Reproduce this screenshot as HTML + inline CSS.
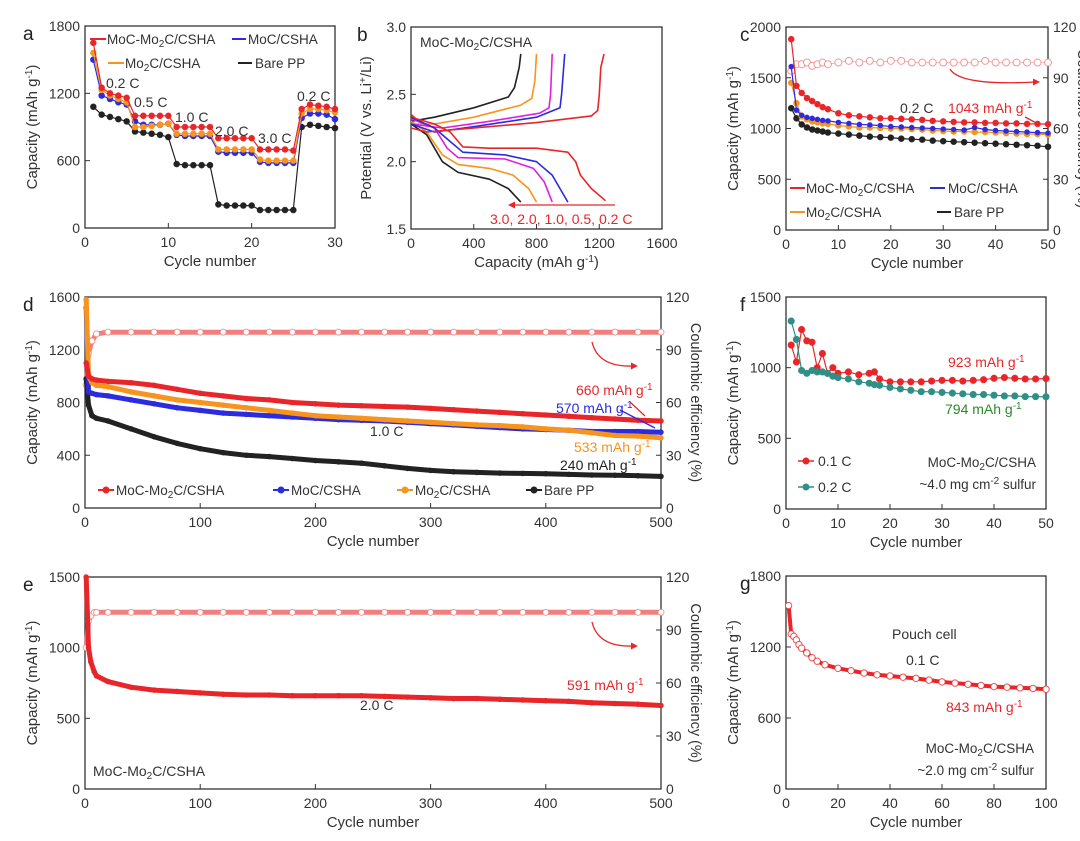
<!DOCTYPE html>
<html><head><meta charset="utf-8">
<style>
html,body{margin:0;padding:0;background:#fff;}
svg{display:block;font-family:"Liberation Sans",Arial,sans-serif;}
</style></head>
<body>
<svg id="fig" width="1080" height="841" viewBox="0 0 1080 841" xmlns="http://www.w3.org/2000/svg"></svg>
<script>
// ---------- Panel a data ----------
const aCycles=[1,2,3,4,5,6,7,8,9,10,11,12,13,14,15,16,17,18,19,20,21,22,23,24,25,26,27,28,29,30];
const aRed=[1650,1250,1200,1180,1160,1000,1000,1000,1000,1000,900,900,900,900,900,800,800,800,800,800,700,700,700,700,690,1060,1100,1090,1080,1060];
const aBlue=[1500,1180,1150,1120,1100,950,920,920,920,930,830,820,820,820,820,680,670,670,670,670,590,580,580,580,580,980,1020,1020,1010,970];
const aOrange=[1560,1230,1180,1150,1120,900,900,910,920,930,840,840,840,840,840,700,700,700,700,700,610,600,600,600,600,1020,1060,1060,1050,1030];
const aBlack=[1080,1010,990,970,950,860,850,840,830,810,570,560,560,560,560,210,200,200,200,200,160,160,160,160,160,900,920,910,900,890];
// ---------- Panel b data (capacity, voltage) ----------
const bDisCap02=[0,30,150,250,330,500,800,1000,1050,1080,1150,1240];
const bDisV02=[2.35,2.32,2.28,2.22,2.11,2.10,2.10,2.07,2.0,1.9,1.8,1.71];
const bChCap02=[0,100,300,800,1150,1190,1200,1210,1230];
const bChV02=[2.25,2.22,2.24,2.29,2.34,2.38,2.5,2.7,2.8];
const bDisCap05=[0,150,250,330,600,800,900,950,1000];
const bDisV05=[2.33,2.25,2.15,2.07,2.05,2.0,1.9,1.8,1.7];
const bChCap05=[0,150,400,800,950,960,980];
const bChV05=[2.28,2.22,2.26,2.33,2.4,2.5,2.8];
const bDisCap10=[0,150,230,300,600,780,850,900];
const bDisV10=[2.32,2.25,2.1,2.03,2.02,1.95,1.85,1.7];
const bChCap10=[0,200,500,820,880,890,900];
const bChV10=[2.28,2.25,2.3,2.36,2.4,2.5,2.8];
const bDisCap20=[0,100,200,300,500,650,750,800];
const bDisV20=[2.3,2.22,2.05,1.98,1.95,1.9,1.8,1.7];
const bChCap20=[0,150,400,700,770,790,800];
const bChV20=[2.28,2.28,2.33,2.42,2.47,2.6,2.8];
const bDisCap30=[0,100,200,300,500,620,700];
const bDisV30=[2.28,2.2,2.0,1.92,1.87,1.8,1.7];
const bChCap30=[0,150,400,620,660,690,700];
const bChV30=[2.3,2.33,2.4,2.48,2.55,2.7,2.8];
// ---------- Panel c data ----------
const cCycles=[1,2,3,4,5,6,7,8,10,12,14,16,18,20,22,24,26,28,30,32,34,36,38,40,42,44,46,48,50];
const cRed=[1880,1420,1350,1300,1270,1240,1210,1190,1150,1130,1120,1110,1100,1100,1095,1090,1085,1075,1070,1065,1060,1060,1055,1055,1050,1050,1045,1045,1043];
const cBlue=[1610,1180,1130,1110,1100,1090,1080,1075,1060,1050,1040,1035,1030,1020,1015,1010,1005,1000,995,990,985,1010,990,980,975,970,965,960,955];
const cOrange=[1450,1250,1120,1090,1070,1060,1050,1045,1030,1020,1010,1010,1005,1000,1000,995,990,980,975,970,970,965,965,960,955,950,945,945,940];
const cBlack=[1200,1100,1040,1010,990,980,970,960,950,940,930,920,915,910,900,895,890,880,875,870,865,860,855,850,845,840,835,830,820];
const cCE=[94,98,98,99,97,98,99,98,99,100,99,100,99,100,100,99,99,99,99,99,99,99,100,99,99,99,99,99,99];
// ---------- Panel d data ----------
const dCycles=[1,3,6,10,20,40,60,80,100,120,140,160,180,200,220,240,260,280,300,320,340,360,380,400,420,440,460,480,500];
const dRed=[1100,1000,980,970,960,950,930,900,870,850,830,820,800,790,780,775,770,765,755,745,735,725,715,705,695,685,675,665,660];
const dBlue=[1520,880,870,860,850,820,790,760,740,720,710,700,690,680,670,665,660,650,640,630,620,610,600,595,590,580,580,580,575];
const dOrange=[1580,1000,950,930,920,880,850,820,800,780,760,740,720,700,690,680,670,660,650,640,630,625,615,600,590,570,550,545,533];
const dBlack=[980,780,700,680,660,600,540,490,450,420,400,390,375,360,350,340,320,300,285,275,270,265,262,260,255,250,248,245,240];
const dCE=[70,88,95,99,100,100,100,100,100,100,100,100,100,100,100,100,100,100,100,100,100,100,100,100,100,100,100,100,100];
// ---------- Panel e data ----------
const eCycles=[1,3,5,8,10,20,40,60,80,100,120,140,160,180,200,220,240,260,280,300,320,340,360,380,400,420,440,460,480,500];
const eRed=[1500,1000,900,830,800,760,720,700,690,680,670,665,665,660,660,660,660,655,650,645,640,640,635,630,625,620,610,605,600,591];
const eCE=[80,95,98,100,100,100,100,100,100,100,100,100,100,100,100,100,100,100,100,100,100,100,100,100,100,100,100,100,100,100];
// ---------- Panel f data ----------
const fCycles=[1,2,3,4,5,6,7,8,9,10,12,14,16,17,18,20,22,24,26,28,30,32,34,36,38,40,42,44,46,48,50];
const fRed=[1160,1040,1270,1190,1180,1000,1100,960,1000,960,970,950,960,970,920,900,900,900,900,905,910,910,905,910,915,925,930,925,920,920,923];
const fTeal=[1330,1200,980,960,980,970,970,960,940,930,920,900,890,880,875,860,850,840,830,830,825,820,815,810,810,805,800,800,795,795,794];
// ---------- Panel g data ----------
const gCycles=[1,2,3,4,5,6,8,10,12,15,20,25,30,35,40,45,50,55,60,65,70,75,80,85,90,95,100];
const gRed=[1550,1310,1290,1260,1220,1190,1150,1110,1080,1050,1020,1000,980,965,955,945,935,920,905,895,885,875,865,860,855,850,843];

const NS="http://www.w3.org/2000/svg";
const svg=document.getElementById('fig');
function el(tag,attrs,parent,txt){const e=document.createElementNS(NS,tag);for(const k in attrs)e.setAttribute(k,attrs[k]);if(txt!==undefined)e.textContent=txt;(parent||svg).appendChild(e);return e;}
const RED='#e8262a',BLUE='#2b2be0',ORANGE='#f7941d',BLACK='#222',MAG='#e020e0',TEAL='#2e8f86',GREEN='#2a8a2a';

function panel(name,o){
  const g=el('g',{},svg);
  
  
  const sx=v=>o.L+(v-o.xmin)/(o.xmax-o.xmin)*(o.R-o.L);
  const sy=v=>o.B-(v-o.ymin)/(o.ymax-o.ymin)*(o.B-o.T);
  const fr=el('rect',{x:o.L,y:o.T,width:o.R-o.L,height:o.B-o.T,fill:'none',stroke:'#333','stroke-width':1.3},g);
  
  
  o.xt.forEach(v=>{el('line',{x1:sx(v),x2:sx(v),y1:o.B,y2:o.B-5,stroke:'#333'},g);
    const t=el('text',{x:sx(v),y:o.B+19,'font-size':14,'text-anchor':'middle',fill:'#333'},g,v);
    });
  o.yt.forEach(v=>{el('line',{x1:o.L,x2:o.L+5,y1:sy(v),y2:sy(v),stroke:'#333'},g);
    const t=el('text',{x:o.L-5,y:sy(v)+5,'font-size':14,'text-anchor':'end',fill:'#333'},g,o.yfmt?o.yfmt(v):v);
    });
  if(o.rt){const sr=v=>o.B-v/120*(o.B-o.T);
    o.rt.forEach(v=>{el('line',{x1:o.R,x2:o.R-5,y1:sr(v),y2:sr(v),stroke:'#333'},g);
      const t=el('text',{x:o.R+5,y:sr(v)+5,'font-size':14,fill:'#333'},g,v);
      });
    const rt=el('text',{x:0,y:0,'font-size':14.5,'text-anchor':'middle',fill:'#333',transform:`translate(${o.R+30},${(o.T+o.B)/2}) rotate(90)`},g,'Coulombic efficiency (%)');
    
    o.sr=sr;}
  const xl=el('text',{x:(o.L+o.R)/2,y:o.B+38,'font-size':15,'text-anchor':'middle',fill:'#333'},g);
  xl.innerHTML=o.xlab;
  
  const yl=el('text',{x:0,y:0,'font-size':15,'text-anchor':'middle',fill:'#333',transform:`translate(${o.L-(o.ylabOff||48)},${(o.T+o.B)/2}) rotate(-90)`},g);
  yl.innerHTML=o.ylab;
  
  const pl=el('text',{x:o.L-(o.letOff||58),y:o.T+14,'font-size':19,fill:'#222'},g,o.letter);
  
  return {g,sx,sy,sr:o.sr};
}
function series(p,name,xs,ys,color,opt){
  opt=opt||{};
  const g=el('g',{},p.g);
  
  
  const sy=opt.right?p.sr:p.sy;
  const pts=xs.map((x,i)=>p.sx(x).toFixed(1)+','+sy(ys[i]).toFixed(1)).join(' ');
  el('polyline',{points:pts,fill:'none',stroke:color,'stroke-width':opt.lw||1.2,'stroke-linejoin':'round'},g);
  if(opt.r!==0){xs.forEach((x,i)=>{const c=el('circle',{cx:p.sx(x),cy:sy(ys[i]),r:opt.r||3,fill:opt.open?'#fff':color,stroke:color,'stroke-opacity':0.8,'stroke-width':opt.open?1:0.6},g);
    });}
  return g;
}
function txt(x,y,s,color,size,name,anchor){const t=el('text',{x:x,y:y,'font-size':size||14,fill:color||'#333','text-anchor':anchor||'start'});t.innerHTML=s;
  return t;}
function arrow(d,color,name){const g=el('g',{});
  el('path',{d:d,fill:'none',stroke:color,'stroke-width':1.3},g);return g;}
function head(x,y,ang,color){el('path',{d:'M0,0 L-7,-3.5 L-7,3.5 Z',fill:color,transform:`translate(${x},${y}) rotate(${ang})`});}
const CAP='Capacity (mAh g<tspan font-size="10" dy="-5">-1</tspan><tspan dy="5">)</tspan>';

// ---- Panel a ----
const pa=panel('panel-a-rate-performance',{L:85,R:335,T:26,B:228,xmin:0,xmax:30,ymin:0,ymax:1800,xt:[0,10,20,30],yt:[0,600,1200,1800],xlab:'Cycle number',ylab:CAP,letter:'a',letOff:62});
series(pa,'series-bare-pp',aCycles,aBlack,BLACK,{r:3});
series(pa,'series-moc-cshha',aCycles,aBlue,BLUE,{r:3});
series(pa,'series-mo2c-csha',aCycles,aOrange,ORANGE,{r:3});
series(pa,'series-moc-mo2c-csha',aCycles,aRed,RED,{r:3});
txt(107,44,'MoC-Mo<tspan font-size="10" dy="3">2</tspan><tspan dy="-3">C/CSHA</tspan>','#333',13.5,'legend-moc-mo2c');
el('line',{x1:90,x2:106,y1:39,y2:39,stroke:RED,'stroke-width':2});
el('line',{x1:232,x2:246,y1:39,y2:39,stroke:BLUE,'stroke-width':2});
txt(248,44,'MoC/CSHA','#333',13.5,'legend-moc');
el('line',{x1:108,x2:124,y1:63,y2:63,stroke:ORANGE,'stroke-width':2});
txt(125,68,'Mo<tspan font-size="10" dy="3">2</tspan><tspan dy="-3">C/CSHA</tspan>','#333',13.5,'legend-mo2c');
el('line',{x1:238,x2:252,y1:63,y2:63,stroke:BLACK,'stroke-width':2});
txt(255,68,'Bare PP','#333',13.5,'legend-bare-pp');
txt(106,88,'0.2 C','#333',14,'rate-label-0-2c');
txt(134,107,'0.5 C','#333',14,'rate-label-0-5c');
txt(175,122,'1.0 C','#333',14,'rate-label-1c');
txt(215,136,'2.0 C','#333',14,'rate-label-2c');
txt(258,143,'3.0 C','#333',14,'rate-label-3c');
txt(297,101,'0.2 C','#333',14,'rate-label-0-2c-return');

// ---- Panel b ----
const pb=panel('panel-b-charge-discharge',{L:411,R:662,T:27,B:229,xmin:0,xmax:1600,ymin:1.5,ymax:3.0,xt:[0,400,800,1200,1600],yt:[1.5,2.0,2.5,3.0],yfmt:v=>v.toFixed(1),xlab:CAP,ylab:'Potential (V vs. Li<tspan font-size="10" dy="-5">+</tspan><tspan dy="5">/Li)</tspan>',letter:'b',letOff:54,ylabOff:40});
[[bDisCap30,bDisV30,bChCap30,bChV30,BLACK,'3c'],[bDisCap20,bDisV20,bChCap20,bChV20,ORANGE,'2c'],[bDisCap10,bDisV10,bChCap10,bChV10,MAG,'1c'],[bDisCap05,bDisV05,bChCap05,bChV05,BLUE,'0-5c'],[bDisCap02,bDisV02,bChCap02,bChV02,RED,'0-2c']].forEach(s=>{
  series(pb,'discharge-curve-'+s[5],s[0],s[1],s[4],{r:0,lw:1.6});
  series(pb,'charge-curve-'+s[5],s[2],s[3],s[4],{r:0,lw:1.6});
});
txt(420,47,'MoC-Mo<tspan font-size="10" dy="3">2</tspan><tspan dy="-3">C/CSHA</tspan>','#333',14,'panel-b-sample-label');
arrow('M615,205 L510,205',RED,'rate-arrow');head(508,205,180,RED);
txt(490,224,'3.0, 2.0, 1.0, 0.5, 0.2 C',RED,14,'rate-order-label');

// ---- Panel c ----
const pc=panel('panel-c-cycling-0-2c',{L:786,R:1048,T:27,B:230,xmin:0,xmax:50,ymin:0,ymax:2000,xt:[0,10,20,30,40,50],yt:[0,500,1000,1500,2000],rt:[0,30,60,90,120],xlab:'Cycle number',ylab:CAP,letter:'c',letOff:46});
series(pc,'ce-moc-mo2c-csha',cCycles,cCE,'#f08080',{right:true,open:true,r:3.5,lw:0.6});
series(pc,'series-bare-pp',cCycles,cBlack,BLACK,{r:3});
series(pc,'series-mo2c-csha',cCycles,cOrange,ORANGE,{r:3});
series(pc,'series-moc-csha',cCycles,cBlue,BLUE,{r:2.5});
series(pc,'series-moc-mo2c-csha',cCycles,cRed,RED,{r:3});
arrow('M950,69 Q960,86 1035,82',RED,'ce-axis-arrow');head(1040,82,0,RED);
txt(900,113,'0.2 C','#333',14,'rate-label');
txt(948,113,'1043 mAh g<tspan font-size="10" dy="-5">-1</tspan>',RED,14,'capacity-annotation');
arrow('M1025,117 L1040,125',RED,'annotation-arrow');
el('line',{x1:790,x2:805,y1:188,y2:188,stroke:RED,'stroke-width':2});
txt(806,193,'MoC-Mo<tspan font-size="10" dy="3">2</tspan><tspan dy="-3">C/CSHA</tspan>','#333',13.5,'legend-moc-mo2c');
el('line',{x1:930,x2:945,y1:188,y2:188,stroke:BLUE,'stroke-width':2});
txt(948,193,'MoC/CSHA','#333',13.5,'legend-moc');
el('line',{x1:790,x2:805,y1:212,y2:212,stroke:ORANGE,'stroke-width':2});
txt(806,217,'Mo<tspan font-size="10" dy="3">2</tspan><tspan dy="-3">C/CSHA</tspan>','#333',13.5,'legend-mo2c');
el('line',{x1:937,x2:951,y1:212,y2:212,stroke:BLACK,'stroke-width':2});
txt(954,217,'Bare PP','#333',13.5,'legend-bare-pp');

// ---- Panel d ----
const pd=panel('panel-d-long-cycling-1c',{L:85,R:661,T:297,B:508,xmin:0,xmax:500,ymin:0,ymax:1600,xt:[0,100,200,300,400,500],yt:[0,400,800,1200,1600],rt:[0,30,60,90,120],xlab:'Cycle number',ylab:CAP,letter:'d',letOff:62});
series(pd,'ce-moc-mo2c-csha',dCycles,dCE,'#f08080',{right:true,open:true,r:3,lw:5});
series(pd,'series-bare-pp',dCycles,dBlack,BLACK,{r:2.5,lw:5});
series(pd,'series-moc-csha',dCycles,dBlue,BLUE,{r:2.5,lw:5});
series(pd,'series-mo2c-csha',dCycles,dOrange,ORANGE,{r:2.5,lw:5});
series(pd,'series-moc-mo2c-csha',dCycles,dRed,RED,{r:2.5,lw:5});
arrow('M592,342 Q598,367 632,366',RED,'ce-axis-arrow');head(638,366,0,RED);
txt(370,436,'1.0 C','#333',14,'rate-label');
txt(576,395,'660 mAh g<tspan font-size="10" dy="-5">-1</tspan>',RED,14,'annotation-red');
txt(556,413,'570 mAh g<tspan font-size="10" dy="-5">-1</tspan>',BLUE,14,'annotation-blue');
arrow('M630,402 L645,416',RED,'annotation-arrow-red');
arrow('M620,410 L655,428',BLUE,'annotation-arrow-blue');
txt(574,452,'533 mAh g<tspan font-size="10" dy="-5">-1</tspan>',ORANGE,14,'annotation-orange');
txt(560,470,'240 mAh g<tspan font-size="10" dy="-5">-1</tspan>','#222',14,'annotation-black');
[[RED,'MoC-Mo<tspan font-size="10" dy="3">2</tspan><tspan dy="-3">C/CSHA</tspan>',98,'legend-moc-mo2c'],[BLUE,'MoC/CSHA',273,'legend-moc'],[ORANGE,'Mo<tspan font-size="10" dy="3">2</tspan><tspan dy="-3">C/CSHA</tspan>',397,'legend-mo2c'],[BLACK,'Bare PP',526,'legend-bare-pp']].forEach(l=>{
  el('line',{x1:l[2],x2:l[2]+16,y1:490,y2:490,stroke:l[0],'stroke-width':2});
  el('circle',{cx:l[2]+8,cy:490,r:3.5,fill:l[0]});
  txt(l[2]+18,495,l[1],'#333',13.5,l[3]);
});

// ---- Panel e ----
const pe=panel('panel-e-long-cycling-2c',{L:85,R:661,T:577,B:789,xmin:0,xmax:500,ymin:0,ymax:1500,xt:[0,100,200,300,400,500],yt:[0,500,1000,1500],rt:[0,30,60,90,120],xlab:'Cycle number',ylab:CAP,letter:'e',letOff:62});
series(pe,'ce-moc-mo2c-csha',eCycles,eCE,'#f08080',{right:true,open:true,r:3,lw:5});
series(pe,'series-moc-mo2c-csha',eCycles,eRed,RED,{r:2.5,lw:5});
arrow('M592,622 Q598,647 632,646',RED,'ce-axis-arrow');head(638,646,0,RED);
txt(360,710,'2.0 C','#333',14,'rate-label');
txt(567,690,'591 mAh g<tspan font-size="10" dy="-5">-1</tspan>',RED,14,'capacity-annotation');
txt(93,776,'MoC-Mo<tspan font-size="10" dy="3">2</tspan><tspan dy="-3">C/CSHA</tspan>','#333',14,'sample-label');

// ---- Panel f ----
const pf=panel('panel-f-high-loading',{L:786,R:1046,T:297,B:509,xmin:0,xmax:50,ymin:0,ymax:1500,xt:[0,10,20,30,40,50],yt:[0,500,1000,1500],xlab:'Cycle number',ylab:CAP,letter:'f',letOff:46});
series(pf,'series-0-1c',fCycles,fRed,RED,{r:3.3});
series(pf,'series-0-2c',fCycles,fTeal,TEAL,{r:3.3});
txt(948,367,'923 mAh g<tspan font-size="10" dy="-5">-1</tspan>',RED,14,'annotation-0-1c');
txt(945,414,'794 mAh g<tspan font-size="10" dy="-5">-1</tspan>',GREEN,14,'annotation-0-2c');
el('line',{x1:798,x2:814,y1:461,y2:461,stroke:RED,'stroke-width':1.5});el('circle',{cx:806,cy:461,r:3.5,fill:RED});
txt(818,466,'0.1 C','#333',14,'legend-0-1c');
el('line',{x1:798,x2:814,y1:487,y2:487,stroke:TEAL,'stroke-width':1.5});el('circle',{cx:806,cy:487,r:3.5,fill:TEAL});
txt(818,492,'0.2 C','#333',14,'legend-0-2c');
txt(1036,467,'MoC-Mo<tspan font-size="10" dy="3">2</tspan><tspan dy="-3">C/CSHA</tspan>','#333',13.5,'sample-label','end');
txt(1036,489,'~4.0 mg cm<tspan font-size="10" dy="-5">-2</tspan><tspan dy="5"> sulfur</tspan>','#333',13.5,'loading-label','end');

// ---- Panel g ----
const pg=panel('panel-g-pouch-cell',{L:786,R:1046,T:576,B:789,xmin:0,xmax:100,ymin:0,ymax:1800,xt:[0,20,40,60,80,100],yt:[0,600,1200,1800],xlab:'Cycle number',ylab:CAP,letter:'g',letOff:46});
series(pg,'series-pouch-0-1c',gCycles,gRed,RED,{r:3.2,open:true,lw:4});
txt(892,639,'Pouch cell','#333',14,'pouch-cell-label');
txt(906,665,'0.1 C','#333',14,'rate-label');
txt(946,712,'843 mAh g<tspan font-size="10" dy="-5">-1</tspan>',RED,14,'capacity-annotation');
txt(1034,753,'MoC-Mo<tspan font-size="10" dy="3">2</tspan><tspan dy="-3">C/CSHA</tspan>','#333',13.5,'sample-label','end');
txt(1034,775,'~2.0 mg cm<tspan font-size="10" dy="-5">-2</tspan><tspan dy="5"> sulfur</tspan>','#333',13.5,'loading-label','end');
</script>
</body></html>
